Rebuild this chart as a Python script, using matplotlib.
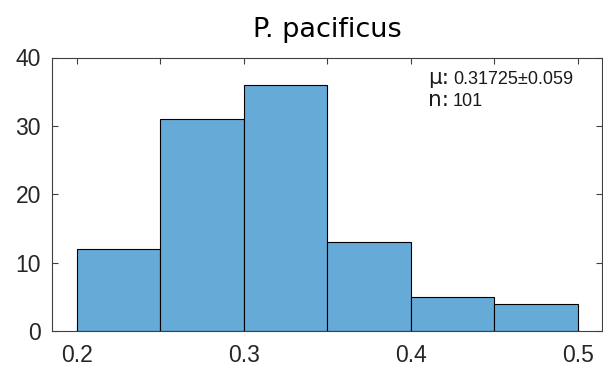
import matplotlib
matplotlib.use("Agg")
import matplotlib.pyplot as plt
import numpy as np

bin_edges = [0.20, 0.25, 0.30, 0.35, 0.40, 0.45, 0.50]
counts = [12, 31, 36, 13, 5, 4]
title = "P. pacificus"
mu_text = "0.31725\u00b10.059"
n_text = "101"
xticks = [0.2, 0.25, 0.3, 0.35, 0.4, 0.45, 0.5]
xticklabels = ["0.2", "", "0.3", "", "0.4", "", "0.5"]
yticks = [0, 10, 20, 30, 40]

fig = plt.figure(figsize=(6.03, 3.69), dpi=100)
W, H = 603, 369
ax = fig.add_axes([52 / W, 1 - 331 / H, (602 - 52) / W, (331 - 57.5) / H])

edges = np.array(bin_edges)
ax.bar(edges[:-1], counts, width=np.diff(edges), align="edge",
       color="#66AAD7", edgecolor="black", linewidth=0.8, zorder=2)

ax.set_xlim(0.185, 0.5145)
ax.set_ylim(0, 40)
ax.set_xticks(xticks)
ax.set_xticklabels(xticklabels)
ax.set_yticks(yticks)

for s in ax.spines.values():
    s.set_color("#404040")
    s.set_linewidth(0.8)
ax.tick_params(direction="in", length=4, width=0.8, color="#404040",
               top=True, right=True, labelsize=16.5, labelcolor="#262626")
ax.tick_params(axis="x", pad=9)
ax.tick_params(axis="y", pad=8)
for lab in ax.get_xticklabels() + ax.get_yticklabels():
    lab.set_family("Liberation Sans")

ax.set_title(title, fontsize=19.5, family="DejaVu Sans", color="black", pad=15)

ax.text(428 / W, 1 - 84 / H, "\u03bc:", transform=fig.transFigure,
        fontsize=15.5, family="DejaVu Sans", va="baseline", ha="left", color="#1a1a1a")
ax.text(453 / W, 1 - 84 / H, mu_text, transform=fig.transFigure,
        fontsize=13, family="Liberation Sans", va="baseline", ha="left", color="#1a1a1a")
ax.text(428 / W, 1 - 106 / H, "n:", transform=fig.transFigure,
        fontsize=15.5, family="DejaVu Sans", va="baseline", ha="left", color="#1a1a1a")
ax.text(453 / W, 1 - 106 / H, n_text, transform=fig.transFigure,
        fontsize=13, family="Liberation Sans", va="baseline", ha="left", color="#1a1a1a")

fig.savefig("out.png", dpi=100)
